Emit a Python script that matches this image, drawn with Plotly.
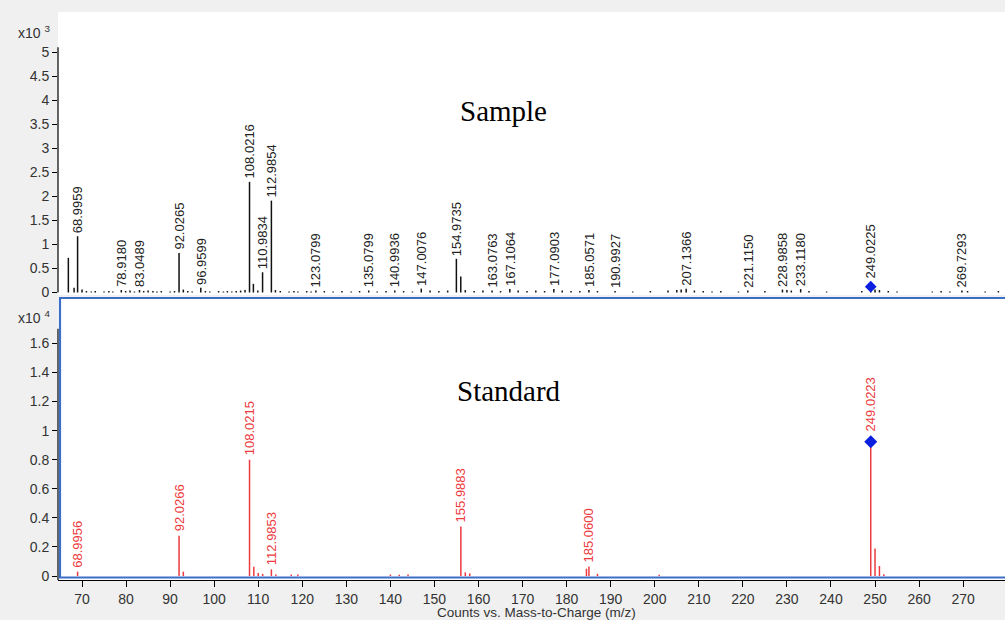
import plotly.graph_objects as go

# ---------------- data ----------------
# Sample (top panel), intensities in x10^3 counts
sample_lab_mz = [68.9959, 78.9180, 83.0489, 92.0265, 96.9599, 108.0216, 110.9834,
                 112.9854, 123.0799, 135.0799, 140.9936, 147.0076, 154.9735,
                 163.0763, 167.1064, 177.0903, 185.0571, 190.9927, 207.1366,
                 221.1150, 228.9858, 233.1180, 249.0225, 269.7293]
sample_lab_int = [1.17, 0.05, 0.05, 0.82, 0.10, 2.30, 0.42,
                  1.91, 0.04, 0.04, 0.04, 0.08, 0.70,
                  0.04, 0.07, 0.07, 0.05, 0.03, 0.08,
                  0.04, 0.06, 0.07, 0.12, 0.04]
sample_minor_mz = [66.9, 68.2, 70.0, 71.0, 72.1, 73.0, 75.0, 76.1, 77.0, 79.9, 80.9, 81.9,
                   84.0, 85.0, 86.1, 87.0, 88.0, 90.0, 91.0, 93.0, 94.0, 95.0, 98.0,
                   99.0, 101.0, 102.1, 103.0, 104.0, 105.0, 106.0, 107.0, 108.9, 109.9,
                   113.9, 115.0, 117.0, 118.1, 119.0, 121.0, 122.0, 125.0, 127.0, 129.0,
                   131.1, 133.0, 137.0, 139.0, 143.0, 145.0, 149.0, 151.0, 153.0, 155.97,
                   157.0, 159.0, 161.0, 165.0, 169.0, 171.0, 173.0, 175.0, 179.0, 181.0,
                   183.0, 187.0, 195.0, 199.0, 203.0, 205.0, 206.0, 209.0, 211.0, 213.0,
                   215.0, 219.0, 225.0, 230.0, 231.0, 235.0, 239.0, 247.0, 250.0, 251.0,
                   253.0, 255.0, 263.0, 265.0, 267.0, 271.0, 275.0, 278.0]
sample_minor_int = [0.72, 0.10, 0.06, 0.03, 0.02, 0.03, 0.02, 0.03, 0.02, 0.03, 0.04, 0.02,
                    0.03, 0.04, 0.03, 0.02, 0.03, 0.02, 0.03, 0.06, 0.03, 0.02, 0.03,
                    0.02, 0.03, 0.02, 0.03, 0.02, 0.03, 0.04, 0.05, 0.18, 0.04,
                    0.05, 0.03, 0.02, 0.03, 0.02, 0.03, 0.02, 0.03, 0.02, 0.03,
                    0.02, 0.03, 0.02, 0.03, 0.03, 0.02, 0.04, 0.03, 0.04, 0.33,
                    0.05, 0.03, 0.04, 0.03, 0.04, 0.03, 0.04, 0.03, 0.04, 0.03,
                    0.03, 0.03, 0.02, 0.03, 0.04, 0.05, 0.06, 0.04, 0.03, 0.02,
                    0.03, 0.02, 0.03, 0.05, 0.04, 0.03, 0.02, 0.03, 0.06, 0.05,
                    0.03, 0.02, 0.02, 0.03, 0.02, 0.03, 0.02, 0.03]

# Standard (bottom panel), intensities in x10^4 counts
standard_lab_mz = [68.9956, 92.0266, 108.0215, 112.9853, 155.9883, 185.0600, 249.0223]
standard_lab_int = [0.030, 0.277, 0.800, 0.046, 0.340, 0.065, 0.924]
standard_minor_mz = [93.0, 109.0, 110.0, 111.0, 114.0, 117.5, 119.0, 140.0, 142.0, 144.0,
                     157.0, 158.0, 184.5, 187.0, 201.0, 250.0, 251.0, 252.0]
standard_minor_int = [0.030, 0.064, 0.020, 0.015, 0.010, 0.010, 0.010, 0.010, 0.008, 0.010,
                      0.025, 0.018, 0.050, 0.015, 0.008, 0.190, 0.069, 0.012]

marker_sample = (249.0225, 0.12)
marker_standard = (249.0223, 0.924)

x_ticks = list(range(70, 280, 10))
top_ticks = [0, 0.5, 1, 1.5, 2, 2.5, 3, 3.5, 4, 4.5, 5]
top_ticktext = ["0", "0.5", "1", "1.5", "2", "2.5", "3", "3.5", "4", "4.5", "5"]
bot_ticks = [0, 0.2, 0.4, 0.6, 0.8, 1.0, 1.2, 1.4, 1.6]
bot_ticktext = ["0", "0.2", "0.4", "0.6", "0.8", "1", "1.2", "1.4", "1.6"]

# ---------------- helpers ----------------
def sticks(mzs, ints):
    xs, ys = [], []
    for m, h in zip(mzs, ints):
        xs += [m, m, None]
        ys += [0, h, None]
    return xs, ys

BLACK = "#111111"
RED = "#ec3a40"
BLUE = "#0a1fe0"
TICKFONT = dict(family="Liberation Sans, Arial, sans-serif", size=14, color="#333333")

fig = go.Figure()

# top panel
xs, ys = sticks(sample_minor_mz + sample_lab_mz, sample_minor_int + sample_lab_int)
fig.add_trace(go.Scatter(x=xs, y=ys, mode="lines", line=dict(color=BLACK, width=1.5),
                         xaxis="x2", yaxis="y2", hoverinfo="skip"))
fig.add_trace(go.Scatter(x=[marker_sample[0]], y=[marker_sample[1]], mode="markers",
                         marker=dict(symbol="diamond", size=9, color=BLUE),
                         xaxis="x2", yaxis="y2"))

# bottom panel
xs, ys = sticks(standard_minor_mz + standard_lab_mz, standard_minor_int + standard_lab_int)
fig.add_trace(go.Scatter(x=xs, y=ys, mode="lines", line=dict(color=RED, width=1.5),
                         xaxis="x", yaxis="y", hoverinfo="skip"))
fig.add_trace(go.Scatter(x=[marker_standard[0]], y=[marker_standard[1]], mode="markers",
                         marker=dict(symbol="diamond", size=10, color=BLUE),
                         xaxis="x", yaxis="y"))

annotations = []
LABFONT = "Liberation Sans, Arial, sans-serif"
for m, h in zip(sample_lab_mz, sample_lab_int):
    shift = 7 if abs(m - marker_sample[0]) < 0.01 else 2
    annotations.append(dict(x=m, y=h, xref="x2", yref="y2", text=f"{m:.4f}",
                            textangle=-90, showarrow=False, xanchor="center",
                            yanchor="bottom", yshift=shift, borderpad=0,
                            font=dict(family=LABFONT, size=13, color="#222222")))
for m, h in zip(standard_lab_mz, standard_lab_int):
    shift = 9 if abs(m - marker_standard[0]) < 0.01 else 3
    annotations.append(dict(x=m, y=h, xref="x", yref="y", text=f"{m:.4f}",
                            textangle=-90, showarrow=False, xanchor="center",
                            yanchor="bottom", yshift=shift, borderpad=0,
                            font=dict(family=LABFONT, size=13, color=RED)))

annotations += [
    dict(x=-0.0443, y=0.9648, xref="paper", yref="paper", text="x10 <sup>3</sup>",
         showarrow=False, xanchor="left", yanchor="middle",
         font=dict(family=LABFONT, size=14, color="#333333")),
    dict(x=-0.0443, y=0.463, xref="paper", yref="paper", text="x10 <sup>4</sup>",
         showarrow=False, xanchor="left", yanchor="middle",
         font=dict(family=LABFONT, size=14, color="#333333")),
    dict(x=0.470, y=0.826, xref="paper", yref="paper", text="Sample",
         showarrow=False, xanchor="center", yanchor="middle",
         font=dict(family="Liberation Serif, Times New Roman, serif", size=29, color="black")),
    dict(x=0.476, y=0.333, xref="paper", yref="paper", text="Standard",
         showarrow=False, xanchor="center", yanchor="middle",
         font=dict(family="Liberation Serif, Times New Roman, serif", size=29, color="black")),
    dict(x=0.505, y=-0.0575, xref="paper", yref="paper", text="Counts vs. Mass-to-Charge (m/z)",
         showarrow=False, xanchor="center", yanchor="middle", borderpad=0,
         font=dict(family=LABFONT, size=13.5, color="#333333")),
]

shapes = [
    # top y axis line
    dict(type="line", xref="paper", yref="y2", x0=0, x1=0, y0=0, y1=5.1,
         line=dict(color="black", width=1.2)),
    # bottom y axis line
    dict(type="line", xref="paper", yref="y", x0=0, x1=0, y0=-0.0275, y1=1.70,
         line=dict(color="black", width=1.2)),
    # blue selection frame of bottom pane
    dict(type="rect", xref="paper", yref="paper", x0=0.0021, x1=1.01, y0=0.0044, y1=0.4965,
         line=dict(color="#3d6ec6", width=2.2), fillcolor="rgba(0,0,0,0)"),
]

fig.update_layout(
    width=1005, height=620,
    margin=dict(l=58, r=0, t=12, b=40),
    paper_bgcolor="#f0f0f0", plot_bgcolor="white",
    showlegend=False,
    annotations=annotations, shapes=shapes,
    xaxis=dict(domain=[0, 1], range=[64.55, 279.5], anchor="y", tickvals=x_ticks,
               ticks="outside", ticklen=6, tickcolor="black", showline=True,
               linecolor="black", linewidth=1, showgrid=False, zeroline=False,
               tickfont=TICKFONT),
    yaxis=dict(domain=[0, 0.4982], range=[-0.0275, 1.919], anchor="x",
               tickvals=bot_ticks, ticktext=bot_ticktext, ticks="outside", ticklen=5,
               tickcolor="black", showline=False, showgrid=False, zeroline=False,
               tickfont=TICKFONT),
    xaxis2=dict(matches="x", anchor="y2", showticklabels=False, ticks="",
                showline=False, showgrid=False, zeroline=False),
    yaxis2=dict(domain=[0.5018, 1], range=[-0.052, 5.832], anchor="x2",
                tickvals=top_ticks, ticktext=top_ticktext, ticks="outside", ticklen=5,
                tickcolor="black", showline=False, showgrid=False, zeroline=False,
                tickfont=TICKFONT),
)

fig.write_html(
    "out.html",
    config={"displayModeBar": False},
    post_script="document.body.style.margin='0';document.body.style.background='#f0f0f0';",
)
